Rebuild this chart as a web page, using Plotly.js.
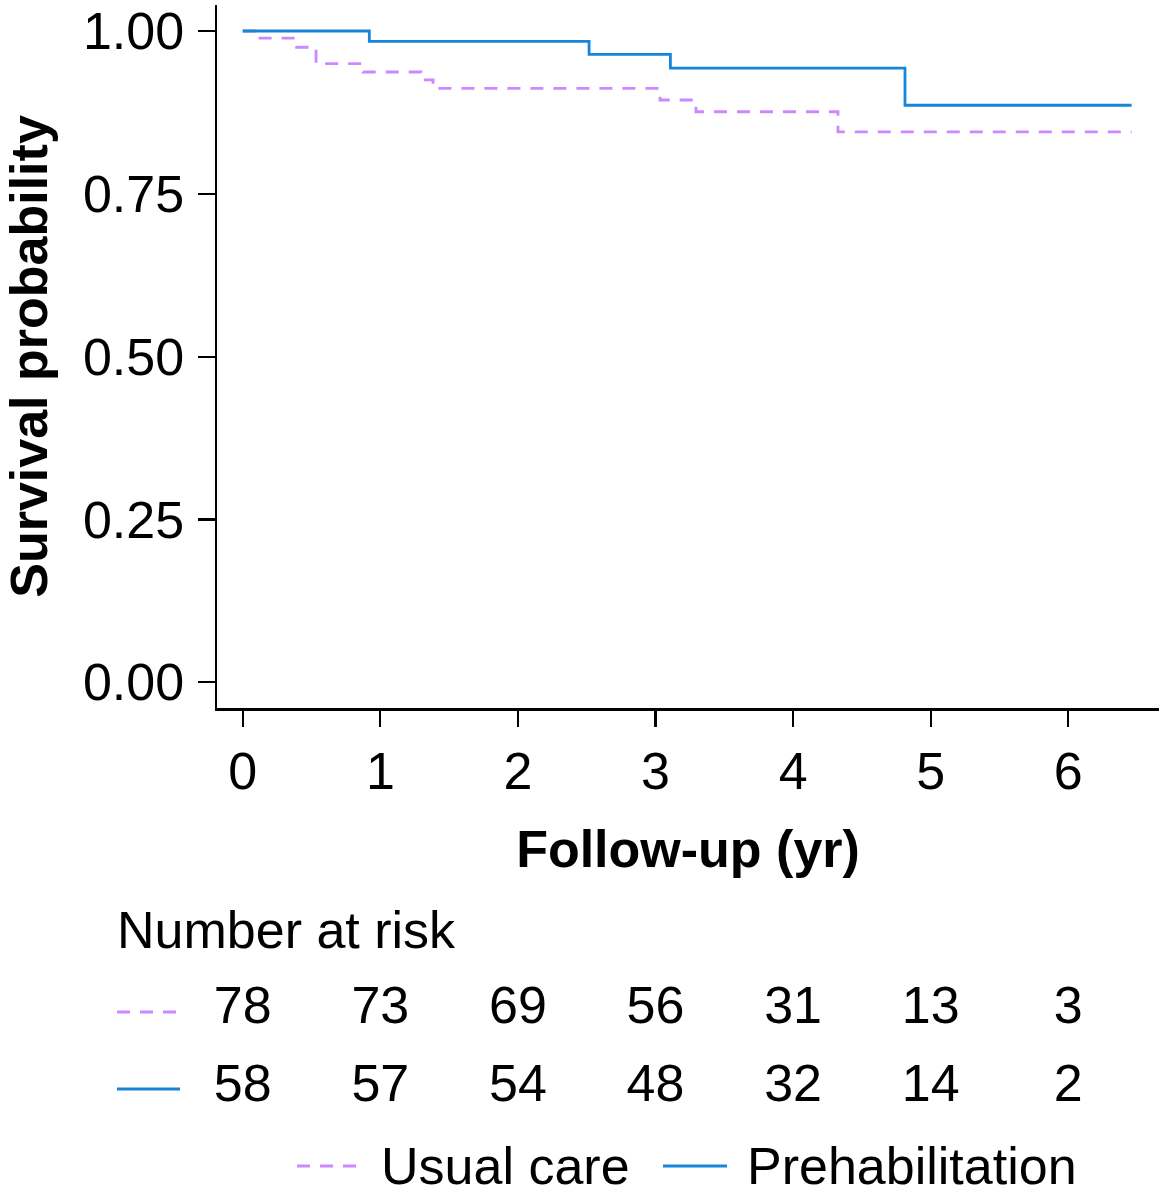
<!DOCTYPE html>
<html>
<head>
<meta charset="utf-8">
<script src="https://cdn.plot.ly/plotly-3.0.1.min.js"></script>
<style>html,body{margin:0;padding:0;background:#fff;} #chart{width:1159px;height:1200px;}</style>
</head>
<body>
<div id="chart"></div>
<script>
// Kaplan-Meier step data
const usualTime  = [0, 0.097, 0.392, 0.533, 0.874, 1.296, 1.383, 3.033, 3.294, 4.326, 6.46];
const usualSurv  = [1, 0.989, 0.975, 0.950, 0.937, 0.925, 0.912, 0.894, 0.876, 0.845, 0.845];
const prehabTime = [0, 0.920, 2.517, 3.108, 4.813, 6.46];
const prehabSurv = [1, 0.984, 0.964, 0.943, 0.886, 0.886];

// Number at risk table
const riskTimes  = [0, 1, 2, 3, 4, 5, 6];
const usualRisk  = [78, 73, 69, 56, 31, 13, 3];
const prehabRisk = [58, 57, 54, 48, 32, 14, 2];
const groups = ['Usual care', 'Prehabilitation'];

const yTicks = [0, 0.25, 0.5, 0.75, 1];
const yTickText = ['0.00', '0.25', '0.50', '0.75', '1.00'];

const PURPLE = '#cc88ff';
const BLUE = '#1785d8';
const FONT = 'Liberation Sans, Arial, sans-serif';
const FS = 52;

// pixel helpers for paper coords (plot area: x 217..1159, y 5..1200)
const PL = 217, PW = 942, PT = 5, PH = 1195;
const px = v => (v - PL) / PW;
const py = v => (1200 - v) / PH;

const traces = [
  {x: usualTime, y: usualSurv, type: 'scatter', mode: 'lines', name: groups[0],
   line: {shape: 'hv', color: PURPLE, width: 2.8, dash: '13px,10px'}, hoverinfo: 'skip', showlegend: false},
  {x: prehabTime, y: prehabSurv, type: 'scatter', mode: 'lines', name: groups[1],
   line: {shape: 'hv', color: BLUE, width: 2.8}, hoverinfo: 'skip', showlegend: false},
  {x: riskTimes, y: riskTimes.map(() => groups[0]), text: usualRisk.map(String),
   type: 'scatter', mode: 'text', xaxis: 'x', yaxis: 'y2', cliponaxis: false,
   textfont: {family: FONT, size: FS, color: '#000'}, hoverinfo: 'skip', showlegend: false},
  {x: riskTimes, y: riskTimes.map(() => groups[1]), text: prehabRisk.map(String),
   type: 'scatter', mode: 'text', xaxis: 'x', yaxis: 'y2', cliponaxis: false,
   textfont: {family: FONT, size: FS, color: '#000'}, hoverinfo: 'skip', showlegend: false}
];

const layout = {
  width: 1159, height: 1200,
  margin: {l: PL, r: 0, t: PT, b: 0},
  paper_bgcolor: '#fff', plot_bgcolor: 'rgba(0,0,0,0)',
  font: {family: FONT, color: '#000', size: FS},
  showlegend: false,
  xaxis: {
    range: [-0.187, 6.659], tickvals: riskTimes, ticks: 'outside', ticklen: 16, tickwidth: 2.2,
    tickcolor: '#000', showline: true, linewidth: 2.5, linecolor: '#000', showgrid: false, zeroline: false,
    anchor: 'y', tickfont: {family: FONT, size: FS, color: '#000'}, ticklabelstandoff: 0,
    title: {text: '<b>Follow-up (yr)</b>', font: {family: FONT, size: FS, color: '#000'}, standoff: 32}
  },
  yaxis: {
    domain: [py(708), 1], range: [-0.0395, 1.0399], tickvals: yTicks, ticktext: yTickText,
    ticks: 'outside', ticklen: 17, tickwidth: 2.2, tickcolor: '#000', showline: true, linewidth: 2.5,
    linecolor: '#000', showgrid: false, zeroline: false, anchor: 'x',
    tickfont: {family: FONT, size: FS, color: '#000'}, ticklabelstandoff: 3,
    title: {text: '<b>Survival probability</b>', font: {family: FONT, size: FS, color: '#000'}, standoff: 24}
  },
  yaxis2: {
    domain: [0, 0.3], type: 'category', categoryarray: [groups[1], groups[0]], categoryorder: 'array',
    range: [-1.436, 3.16], visible: false, anchor: 'free', position: 0, fixedrange: true
  },
  shapes: [
    {type: 'line', xref: 'paper', yref: 'paper', x0: px(117), x1: px(180), y0: py(1012), y1: py(1012),
     line: {color: PURPLE, width: 2.8, dash: '13px,10px'}},
    {type: 'line', xref: 'paper', yref: 'paper', x0: px(117), x1: px(180), y0: py(1089), y1: py(1089),
     line: {color: BLUE, width: 2.8}},
    {type: 'line', xref: 'paper', yref: 'paper', x0: px(297), x1: px(360), y0: py(1166), y1: py(1166),
     line: {color: PURPLE, width: 2.8, dash: '13px,10px'}},
    {type: 'line', xref: 'paper', yref: 'paper', x0: px(663), x1: px(727), y0: py(1166), y1: py(1166),
     line: {color: BLUE, width: 2.8}}
  ],
  annotations: [
    {text: 'Number at risk', xref: 'paper', yref: 'paper', x: px(115), y: py(930), xanchor: 'left', yanchor: 'middle',
     showarrow: false, font: {family: FONT, size: FS, color: '#000'}},
    {text: groups[0], xref: 'paper', yref: 'paper', x: px(379), y: py(1166), xanchor: 'left', yanchor: 'middle',
     showarrow: false, font: {family: FONT, size: FS, color: '#000'}},
    {text: groups[1], xref: 'paper', yref: 'paper', x: px(745), y: py(1166), xanchor: 'left', yanchor: 'middle',
     showarrow: false, font: {family: FONT, size: FS, color: '#000'}}
  ]
};

Plotly.newPlot('chart', traces, layout, {staticPlot: true, displayModeBar: false});
</script>
</body>
</html>
